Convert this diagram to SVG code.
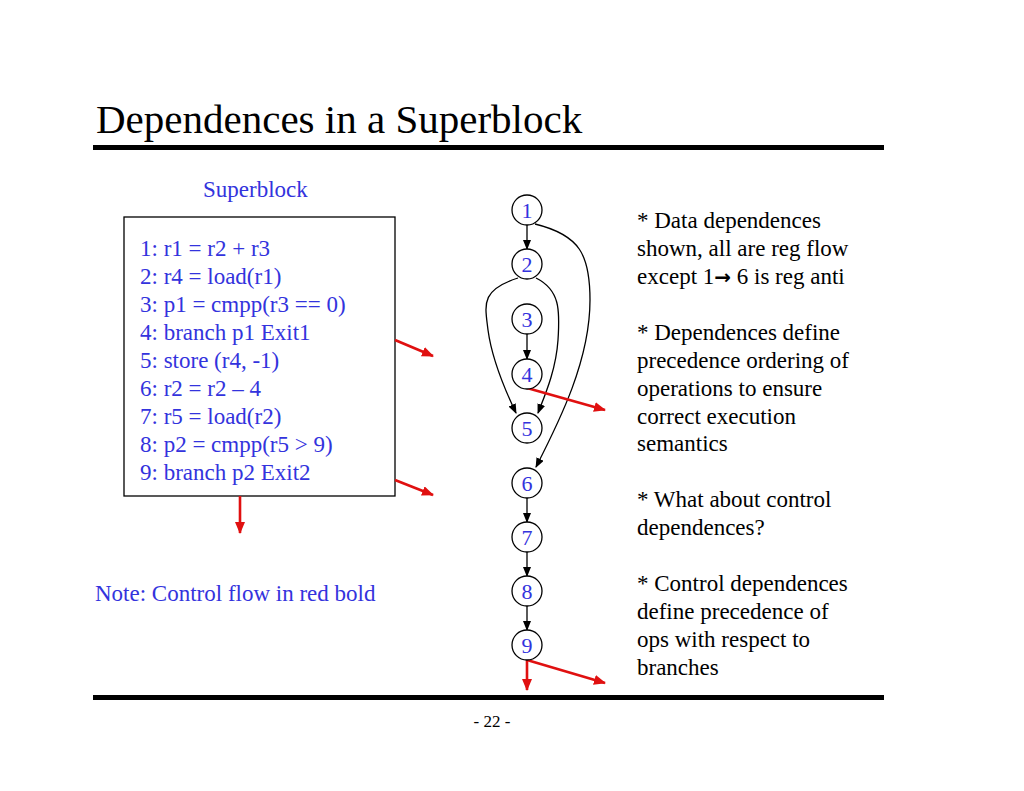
<svg xmlns="http://www.w3.org/2000/svg" width="1024" height="791" viewBox="0 0 1024 791">
<style>
text{font-family:"Liberation Serif","Times New Roman",serif}
.b{fill:#3333dd;font-size:23px}
.k{fill:#000;font-size:23px}
.n{fill:#3333dd;font-size:22px;text-anchor:middle}
circle{fill:#fff;stroke:#000;stroke-width:1.3}
.e{fill:none;stroke:#000;stroke-width:1.3;marker-end:url(#a)}
.r{fill:none;stroke:#e01010;stroke-width:2.6;marker-end:url(#ra)}
</style>
<defs>
<marker id="a" markerWidth="10" markerHeight="8" refX="9" refY="4" orient="auto" markerUnits="userSpaceOnUse"><path d="M0,0L10,4L0,8z" fill="#000"/></marker>
<marker id="ra" markerWidth="12" markerHeight="10" refX="11" refY="5" orient="auto" markerUnits="userSpaceOnUse"><path d="M0,0L12,5L0,10z" fill="#e01010"/></marker>
</defs>
<rect width="1024" height="791" fill="#fff"/>
<text x="96" y="133" style="font-size:41px">Dependences in a Superblock</text>
<rect x="93" y="145" width="791" height="5" fill="#000"/>
<rect x="93" y="695" width="791" height="5" fill="#000"/>
<text x="492" y="727" style="font-size:17px" text-anchor="middle">- 22 -</text>
<text class="b" x="203" y="197">Superblock</text>
<g id="code">
<rect x="124" y="217" width="271" height="279" fill="#fff" stroke="#000" stroke-width="1.3"/>
<text class="b" x="140" y="256">1: r1 = r2 + r3</text>
<text class="b" x="140" y="284">2: r4 = load(r1)</text>
<text class="b" x="140" y="312">3: p1 = cmpp(r3 == 0)</text>
<text class="b" x="140" y="340">4: branch p1 Exit1</text>
<text class="b" x="140" y="368">5: store (r4, -1)</text>
<text class="b" x="140" y="396">6: r2 = r2 – 4</text>
<text class="b" x="140" y="424">7: r5 = load(r2)</text>
<text class="b" x="140" y="452">8: p2 = cmpp(r5 &gt; 9)</text>
<text class="b" x="140" y="480">9: branch p2 Exit2</text>
</g>
<text class="b" x="95" y="601">Note: Control flow in red bold</text>
<g id="connectors">
<path class="r" d="M395,340L433,356"/>
<path class="r" d="M395,480L433,495"/>
<path class="r" d="M240,496L240,533"/>
<path class="e" d="M527,225L527,249"/>
<path class="e" d="M527,334L527,359"/>
<path class="e" d="M527,498L527,522"/>
<path class="e" d="M527,552L527,576"/>
<path class="e" d="M527,606L527,630"/>
<path class="e" d="M518,278C480,290 485,305 488,330C492,360 505,390 516,413"/>
<path class="e" d="M536,278C560,290 560,310 558,340C556,370 545,395 538,413"/>
<path class="e" d="M535,224C580,235 590,255 590,300C590,360 560,420 536,467"/>
<path class="r" d="M527,388L605,410"/>
<path class="r" d="M527,660L605,683"/>
<path class="r" d="M527,660L527,690"/>
</g>
<g id="n1"><circle cx="527" cy="210" r="15"/><text class="n" x="527" y="218">1</text></g>
<g id="n2"><circle cx="527" cy="264" r="15"/><text class="n" x="527" y="272">2</text></g>
<g id="n3"><circle cx="527" cy="319" r="15"/><text class="n" x="527" y="327">3</text></g>
<g id="n4"><circle cx="527" cy="374" r="15"/><text class="n" x="527" y="382">4</text></g>
<g id="n5"><circle cx="527" cy="428" r="15"/><text class="n" x="527" y="436">5</text></g>
<g id="n6"><circle cx="527" cy="483" r="15"/><text class="n" x="527" y="491">6</text></g>
<g id="n7"><circle cx="527" cy="537" r="15"/><text class="n" x="527" y="545">7</text></g>
<g id="n8"><circle cx="527" cy="591" r="15"/><text class="n" x="527" y="599">8</text></g>
<g id="n9"><circle cx="527" cy="645" r="15"/><text class="n" x="527" y="653">9</text></g>
<g id="notes">
<text class="k" x="637" y="228">* Data dependences</text>
<text class="k" x="637" y="256">shown, all are reg flow</text>
<text class="k" x="637" y="284">except 1<tspan font-family="DejaVu Sans" font-size="20" font-weight="bold">→</tspan> 6 is reg anti</text>
<text class="k" x="637" y="340">* Dependences define</text>
<text class="k" x="637" y="368">precedence ordering of</text>
<text class="k" x="637" y="396">operations to ensure</text>
<text class="k" x="637" y="424">correct execution</text>
<text class="k" x="637" y="451">semantics</text>
<text class="k" x="637" y="507">* What about control</text>
<text class="k" x="637" y="535">dependences?</text>
<text class="k" x="637" y="591">* Control dependences</text>
<text class="k" x="637" y="619">define precedence of</text>
<text class="k" x="637" y="647">ops with respect to</text>
<text class="k" x="637" y="675">branches</text>
</g>
</svg>
